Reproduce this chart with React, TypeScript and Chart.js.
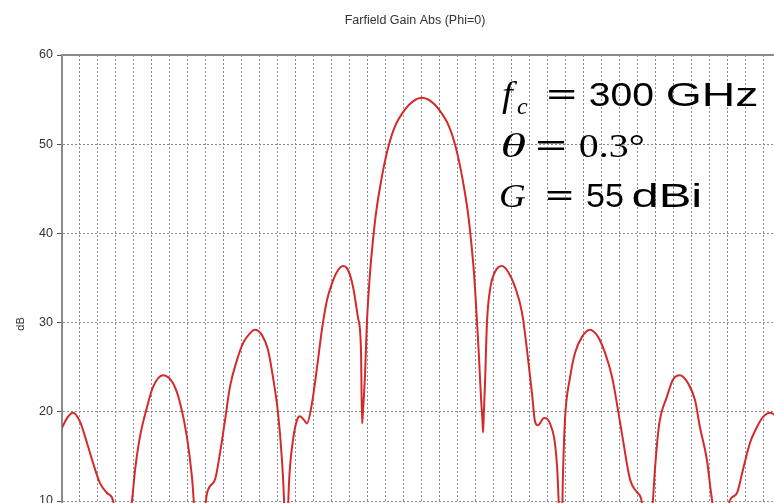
import { useEffect, useRef } from "react";
import { Chart, registerables } from "chart.js";

Chart.register(...registerables);

// Theta (degrees) and far-field gain (dB)
const thetaDeg = [
  -2.0, -1.972, -1.939, -1.9, -1.861, -1.828, -1.789, -1.75, -1.717, -1.667,
  -1.611, -1.594, -1.567, -1.528, -1.494, -1.439, -1.383, -1.344, -1.306, -1.278,
  -1.239, -1.194, -1.15, -1.122, -1.094, -1.067, -1.028, -0.994, -0.956, -0.928,
  -0.889, -0.856, -0.828, -0.8, -0.778, -0.767, -0.756, -0.739, -0.717, -0.694,
  -0.678, -0.656, -0.639, -0.611, -0.583, -0.556, -0.528, -0.5, -0.472, -0.439,
  -0.411, -0.383, -0.356, -0.339, -0.333, -0.328, -0.317, -0.306, -0.289, -0.272,
  -0.256, -0.233, -0.211, -0.183, -0.15, -0.094, -0.05, 0.0, 0.05, 0.094,
  0.15, 0.183, 0.211, 0.233, 0.256, 0.272, 0.289, 0.306, 0.317, 0.328,
  0.336, 0.339, 0.344, 0.35, 0.361, 0.378, 0.406, 0.444,
  0.478, 0.517, 0.556, 0.583, 0.611, 0.628, 0.644, 0.678, 0.711, 0.75,
  0.761, 0.772, 0.783, 0.794, 0.822, 0.85, 0.889, 0.933, 0.978, 1.017,
  1.056, 1.089, 1.117, 1.156, 1.194, 1.222, 1.244, 1.283, 1.294, 1.317,
  1.361, 1.394, 1.433, 1.478, 1.517, 1.544, 1.583, 1.606, 1.656, 1.711,
  1.75, 1.783, 1.822, 1.861, 1.894, 1.933, 1.967,
];

const gainDb = [
  18.2, 19.3, 19.9, 18.9, 16.5, 14.3, 12.0, 10.9, 10.1, 4,
  10.1, 13.5, 17.2, 20.5, 22.8, 24.1, 23.2, 21.0, 17.2, 12.7,
  3, 10.9, 12.4, 15.4, 19.1, 22.8, 25.8, 27.7, 28.8, 29.2,
  28.6, 27.0, 23.9, 19.9, 14.6, 10.4, 2, 12, 16.8, 19.1,
  19.5, 19.1, 18.7, 21.0, 25.0, 29.2, 32.5, 34.4, 35.7, 36.35,
  35.9, 34.0, 30.6, 27.0, 18.7, 20, 24, 30, 35.5, 39.3,
  42.2, 45.2, 47.6, 50, 52.0, 53.9, 54.8, 55.2, 54.8, 53.9,
  52.0, 50, 47.6, 45.2, 42.2, 39.3, 35.5, 30, 26, 21.5,
  19.0, 17.7, 20, 23.2, 30, 33.7, 35.7, 36.35,
  35.7, 34.0, 31.1, 27, 22.1, 18.9, 18.5, 19.3, 18.7, 14,
  9, 2, 12.7, 19, 23.8, 26.6, 28.4, 29.2, 28.4, 26.6,
  23.9, 20.2, 16.8, 12.4, 11.0, 9.8, 3, 10.1, 13.5, 18.5,
  21.7, 23.6, 24.1, 23.2, 21.3, 18.3, 14.6, 10.9, 5, 10.1,
  10.9, 13.5, 16.5, 18.3, 19.4, 19.9, 19.6,
];

const yTickValues = [10, 20, 30, 40, 50, 60];
const chartTitle = "Farfield Gain Abs (Phi=0)";
const yAxisTitle = "dB";

const SERIF = '"Liberation Serif", "DejaVu Serif", serif';
const SANS = '"Liberation Sans", Arial, sans-serif';

type Tok = { t: string; x: number; y: number; w: number; font: string };
const annotationTokens: Tok[] = [
  { t: "f", x: 502, y: 106, w: 16, font: `italic 36px ${SERIF}` },
  { t: "c", x: 517, y: 114, w: 11, font: `italic 24px ${SERIF}` },
  { t: "=", x: 548, y: 106, w: 27, font: `bold 34px ${SERIF}` },
  { t: "300", x: 590, y: 106, w: 63, font: `34px ${SANS}` },
  { t: "GHz", x: 667, y: 106, w: 90, font: `34px ${SANS}` },
  { t: "θ", x: 502, y: 157, w: 23, font: `italic 34px ${SERIF}` },
  { t: "=", x: 537, y: 157, w: 28, font: `bold 34px ${SERIF}` },
  { t: "0.3°", x: 580, y: 157, w: 63, font: `34px ${SERIF}` },
  { t: "G", x: 500, y: 207, w: 25, font: `italic 34px ${SERIF}` },
  { t: "=", x: 547, y: 207, w: 25, font: `bold 34px ${SERIF}` },
  { t: "55", x: 587, y: 207, w: 36, font: `34px ${SANS}` },
  { t: "dBi", x: 633, y: 207, w: 67, font: `34px ${SANS}` },
];

export default function App() {
  const ref = useRef<HTMLCanvasElement>(null);

  useEffect(() => {
    const canvas = ref.current;
    if (!canvas) return;

    const overlay = {
      id: "overlay",
      afterDraw(chart: any) {
        const ctx = chart.ctx as CanvasRenderingContext2D;
        const area = chart.chartArea;
        ctx.save();
        // top frame line
        ctx.strokeStyle = "#8a8a8a";
        ctx.lineWidth = 2;
        ctx.beginPath();
        ctx.moveTo(area.left - 1, area.top);
        ctx.lineTo(area.right, area.top);
        ctx.stroke();

        // title
        ctx.fillStyle = "#333";
        ctx.font = `12.5px ${SANS}`;
        ctx.textAlign = "center";
        ctx.textBaseline = "middle";
        ctx.fillText(chartTitle, 415, 21);

        // y axis title
        ctx.save();
        ctx.translate(21, 324);
        ctx.rotate(-Math.PI / 2);
        ctx.font = `11px ${SANS}`;
        ctx.fillText(yAxisTitle, 0, 0);
        ctx.restore();

        // annotation text
        ctx.fillStyle = "#000";
        ctx.textAlign = "left";
        ctx.textBaseline = "alphabetic";
        for (const tk of annotationTokens) {
          ctx.font = tk.font;
          const m = ctx.measureText(tk.t);
          const ink = m.actualBoundingBoxLeft + m.actualBoundingBoxRight;
          const sx = ink > 0 ? tk.w / ink : 1;
          ctx.save();
          ctx.translate(tk.x + m.actualBoundingBoxLeft * sx, tk.y);
          ctx.scale(sx, 1);
          ctx.fillText(tk.t, 0, 0);
          ctx.restore();
        }
        ctx.restore();
      },
    };

    const chart = new Chart(canvas, {
      type: "line",
      data: {
        datasets: [
          {
            data: thetaDeg.map((x, i) => ({ x, y: gainDb[i] })),
            borderColor: "#d42a2a",
            borderWidth: 2,
            pointRadius: 0,
            cubicInterpolationMode: "monotone",
            fill: false,
          },
        ],
      },
      options: {
        responsive: false,
        animation: false,
        layout: { padding: { top: 55, left: 0, right: 0, bottom: 0 } },
        plugins: {
          legend: { display: false },
          title: { display: false },
          tooltip: { enabled: false },
        },
        scales: {
          x: {
            type: "linear",
            min: -2,
            max: 1.9556,
            ticks: { display: false, stepSize: 0.1, includeBounds: false },
            grid: { color: "#8c8c8c", lineWidth: 1, drawTicks: false },
            border: { display: false, dash: [2, 2] },
            afterBuildTicks: (s: any) => {
              s.ticks = s.ticks.filter(
                (t: any) =>
                  Math.abs(t.value * 10 - Math.round(t.value * 10)) < 1e-6 &&
                  t.value > -1.99
              );
            },
            afterFit: (s: any) => {
              s.height = 0;
              s.paddingLeft = 0;
              s.paddingRight = 0;
            },
          },
          y: {
            type: "linear",
            min: 9.78,
            max: 60,
            ticks: {
              stepSize: 10,
              includeBounds: false,
              color: "#333",
              font: { family: SANS, size: 12.5 },
              padding: 4,
            },
            grid: { color: "#8c8c8c", lineWidth: 1, tickColor: "#555", tickLength: 5 },
            border: { display: true, color: "#8a8a8a", width: 2, dash: [2, 2] },
            afterBuildTicks: (s: any) => {
              s.ticks = s.ticks.filter((t: any) =>
                yTickValues.some((v) => Math.abs(v - t.value) < 1e-6)
              );
            },
            afterFit: (s: any) => {
              s.width = 62;
              s.paddingTop = 0;
              s.paddingBottom = 0;
            },
          },
        },
      },
      plugins: [overlay],
    } as any);

    return () => chart.destroy();
  }, []);

  return (
    <div style={{ position: "fixed", left: 0, top: 0, width: 774, height: 503, background: "#fff" }}>
      <canvas ref={ref} width={774} height={503} style={{ display: "block" }} />
    </div>
  );
}
